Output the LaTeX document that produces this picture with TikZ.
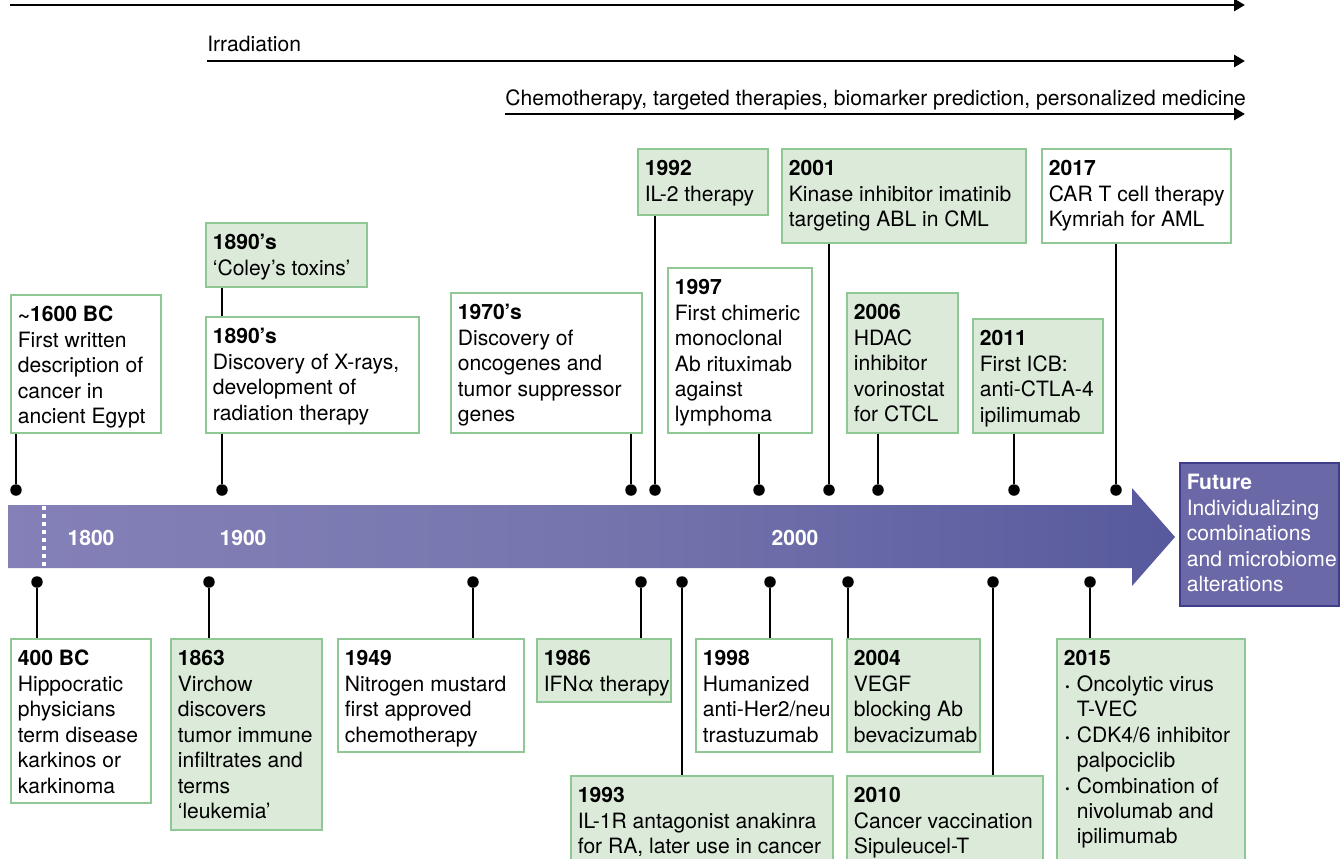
\documentclass[tikz,border=0pt]{standalone}
\usepackage{fontspec}
\setmainfont{TeX Gyre Heros}
\usetikzlibrary{arrows.meta}

\definecolor{boxfill}{RGB}{220,235,217}
\definecolor{boxline}{RGB}{143,200,148}
\definecolor{futfill}{RGB}{107,104,168}
\definecolor{futline}{RGB}{62,62,138}
\pgfdeclarehorizontalshading{tlshade}{100bp}{rgb(0bp)=(0.58,0.55,0.76); rgb(50bp)=(0.46,0.46,0.68); rgb(100bp)=(0.22,0.24,0.55)}
\hyphenpenalty=10000
\exhyphenpenalty=10000

\begin{document}
\begin{tikzpicture}[
      x=0.02cm, y=-0.02cm,
      font=\fontsize{12}{14.5}\selectfont,
      gbox/.style={
          draw=boxline,
          line width=1.1pt,
          fill=boxfill,
          anchor=north west,
          inner sep=0
      },
      wbox/.style={gbox, fill=white},
      evtext/.style={
          anchor=north west,
          align=left,
          inner xsep=0.15cm,
          inner ysep=0.24cm,
          execute at begin node=\strut
      },
      tdot/.style={circle, fill=black, inner sep=0, minimum size=0.23cm},
      conn/.style={line width=0.8pt},
      era/.style={line width=1.7pt, -{Triangle[length=0.22cm, width=0.24cm]}},
      yearlbl/.style={text=white, font=\fontsize{12}{14.5}\selectfont\bfseries, inner sep=0}
  ]
      \useasboundingbox (0,0) rectangle (1343,859);
      \clip (0,0) rectangle (1343,859);

      % --- Eras ---
      \coordinate (allstart) at (10,5);
      \coordinate (allend) at (1245,5);
      \draw[era] (allstart) -- (allend);

      \node[anchor=base west, inner sep=0] (irrlbl) at (207,51) {Irradiation};
      \coordinate (irrend) at (1245,61);
      \draw[era] (irrlbl.west |- irrend) -- (irrend);

      \node[anchor=base west, inner sep=0] (chemolbl) at (505,105) {Chemotherapy, targeted therapies, biomarker prediction, personalized medicine};
      \coordinate (chemoend) at (1245,114);
      \draw[era] (chemolbl.west |- chemoend) -- (chemoend);

      % --- Timeline ---
      \shade[shading=tlshade] (8,505) -- (1132,505) -- (1132,488) -- (1175,537)
          -- (1132,586) -- (1132,568) -- (8,568) -- cycle;
      \draw[white, line width=0.08cm, dash pattern=on 0.08cm off 0.08cm] (44,506) -- (44,568);
      \node[yearlbl] (y1800) at (91,538) {1800};
      \node[yearlbl] (y1900) at (243,538) {1900};
      \node[yearlbl] (y2000) at (795,538) {2000};

      % --- Future ---
      \node[gbox, draw=futline, fill=futfill, line width=1.2pt, minimum width=3.18cm, minimum height=2.86cm,
          label={[evtext, text=white]north west:{\textbf{Future}\\Individualizing\\combinations\\and microbiome\\alterations}}]
          (bfuture) at (1179,462) {};

      % --- Events above ---
      \node[wbox, minimum width=3.00cm, minimum height=2.76cm,
          label={[evtext]north west:{\textbf{\textasciitilde1600 BC}\\First written\\description of\\cancer in\\ancient Egypt}}]
          (b1600) at (10,294) {};
      \node[gbox, minimum width=3.22cm, minimum height=1.28cm,
          label={[evtext]north west:{\textbf{1890’s}\\‘Coley’s toxins’}}]
          (bcoley) at (205,222) {};
      \node[wbox, minimum width=4.26cm, minimum height=2.32cm,
          label={[evtext]north west:{\textbf{1890’s}\\Discovery of X-rays,\\development of\\radiation therapy}}]
          (bxray) at (205,316) {};
      \node[wbox, minimum width=3.82cm, minimum height=2.80cm,
          label={[evtext]north west:{\textbf{1970’s}\\Discovery of\\oncogenes and\\tumor suppressor\\genes}}]
          (b1970) at (450,292) {};
      \node[gbox, minimum width=2.60cm, minimum height=1.32cm,
          label={[evtext]north west:{\textbf{1992}\\IL-2 therapy}}]
          (b1992) at (637,148) {};
      \node[wbox, minimum width=2.88cm, minimum height=3.30cm,
          label={[evtext]north west:{\textbf{1997}\\First chimeric\\monoclonal\\Ab rituximab\\against\\lymphoma}}]
          (b1997) at (667,267) {};
      \node[gbox, minimum width=4.88cm, minimum height=1.88cm,
          label={[evtext]north west:{\textbf{2001}\\Kinase inhibitor imatinib\\targeting ABL in CML}}]
          (b2001) at (781,148) {};
      \node[gbox, minimum width=2.22cm, minimum height=2.80cm,
          label={[evtext]north west:{\textbf{2006}\\HDAC\\inhibitor\\vorinostat\\for CTCL}}]
          (b2006) at (846,292) {};
      \node[gbox, minimum width=2.60cm, minimum height=2.28cm,
          label={[evtext]north west:{\textbf{2011}\\First ICB:\\anti-CTLA-4\\ipilimumab}}]
          (b2011) at (972,318) {};
      \node[wbox, minimum width=3.78cm, minimum height=1.88cm,
          label={[evtext]north west:{\textbf{2017}\\CAR T cell therapy\\Kymriah for AML}}]
          (b2017) at (1041,148) {};

      % --- Events below ---
      \node[wbox, minimum width=2.80cm, minimum height=3.28cm,
          label={[evtext]north west:{\textbf{400 BC}\\Hippocratic\\physicians\\term disease\\karkinos or\\karkinoma}}]
          (b400) at (10,638) {};
      \node[gbox, minimum width=3.02cm, minimum height=3.82cm,
          label={[evtext]north west:{\textbf{1863}\\Virchow\\discovers\\tumor immune\\infiltrates and\\terms\\‘leukemia’}}]
          (b1863) at (170,638) {};
      \node[wbox, minimum width=3.72cm, minimum height=2.26cm,
          label={[evtext]north west:{\textbf{1949}\\Nitrogen mustard\\first approved\\chemotherapy}}]
          (b1949) at (337,638) {};
      \node[gbox, minimum width=2.68cm, minimum height=1.26cm,
          label={[evtext]north west:{\textbf{1986}\\IFNα therapy}}]
          (b1986) at (536,638) {};
      \node[gbox, minimum width=5.24cm, minimum height=1.90cm,
          label={[evtext]north west:{\textbf{1993}\\IL-1R antagonist anakinra\\for RA, later use in cancer}}]
          (b1993) at (570,775) {};
      \node[wbox, minimum width=2.72cm, minimum height=2.26cm,
          label={[evtext]north west:{\textbf{1998}\\Humanized\\anti-Her2/neu\\trastuzumab}}]
          (b1998) at (695,638) {};
      \node[gbox, minimum width=2.66cm, minimum height=2.26cm,
          label={[evtext]north west:{\textbf{2004}\\VEGF\\blocking Ab\\bevacizumab}}]
          (b2004) at (846,638) {};
      \node[gbox, minimum width=3.92cm, minimum height=1.90cm,
          label={[evtext]north west:{\textbf{2010}\\Cancer vaccination\\Sipuleucel-T}}]
          (b2010) at (846,775) {};
      \node[gbox, minimum width=3.76cm, minimum height=4.48cm,
          label={[evtext]north west:{\textbf{2015}\\
              \makebox[0.26cm][l]{\hspace{0.03cm}{\scriptsize\textbullet}}Oncolytic virus\\
              \hspace*{0.26cm}T-VEC\\
              \makebox[0.26cm][l]{\hspace{0.03cm}{\scriptsize\textbullet}}CDK4/6 inhibitor\\
              \hspace*{0.26cm}palpociclib\\
              \makebox[0.26cm][l]{\hspace{0.03cm}{\scriptsize\textbullet}}Combination of\\
              \hspace*{0.26cm}nivolumab and\\
              \hspace*{0.26cm}ipilimumab}}]
          (b2015) at (1056,638) {};

      % --- Dots on the timeline ---
      \foreach \n/\x in {1600/16, xray/222, 1970/631, 1992/655, 1997/759, 2001/829, 2006/878, 2011/1014, 2017/1116}
          \node[tdot] (d\n) at (\x,490) {};
      \foreach \n/\x in {400/37, 1863/209, 1949/473, 1986/641, 1993/682, 1998/770, 2004/848, 2010/993, 2015/1090}
          \node[tdot] (d\n) at (\x,582) {};

      % --- Connections ---
      \foreach \n in {1600, xray, 1970, 1992, 1997, 2001, 2006, 2011, 2017}
          \draw[conn] (b\n.south -| d\n) -- (d\n);
      \foreach \n in {400, 1863, 1949, 1986, 1993, 1998, 2004, 2010, 2015}
          \draw[conn] (b\n.north -| d\n) -- (d\n);
      \draw[conn] (bcoley.south -| dxray) -- (bxray.north -| dxray);

  \end{tikzpicture}
\end{document}
